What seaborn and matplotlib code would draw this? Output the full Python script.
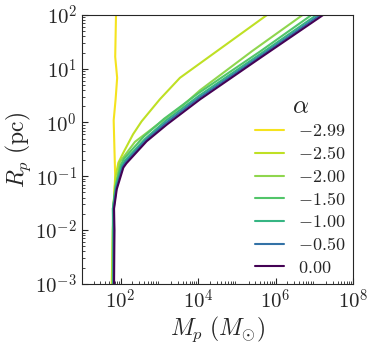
import matplotlib

matplotlib.use("Agg")
import matplotlib.pyplot as plt
import numpy as np
import pandas as pd
import seaborn as sns
from matplotlib.ticker import FixedLocator, FuncFormatter, LogLocator, NullFormatter

# power-law slope of each run, and the (M_p, R_p) track
alphas = ["-2.99", "-2.50", "-2.00", "-1.50", "-1.00", "-0.50", "0.00"]

m_299 = [58.9, 63.1, 67.6, 72.4, 69.2, 66.1, 74.1, 81.3, 72.4, 75.9]
r_299 = [1e-3, 1e-2, 0.0427, 0.1, 0.316, 1.096, 2.69, 6.76, 16.6, 100.0]

m_250 = [60.3, 63.1, 66.1, 74.1, 87.1, 117.5, 208.9, 346.7, 1023, 3388, 11220, 6.03e5]
r_250 = [1e-3, 1e-2, 0.0316, 0.1, 0.178, 0.275, 0.603, 1.047, 2.69, 6.76, 12.6, 100.0]

m_200 = [63.1, 63.1, 64.6, 75.9, 95.5, 234.4, 851.1, 4074, 11220, 2.51e5, 5.01e6]
r_200 = [1e-3, 1e-2, 0.0251, 0.0708, 0.185, 0.437, 0.891, 2.09, 3.98, 21.4, 100.0]

m_150 = [63.1, 63.1, 63.1, 74.1, 102.3, 123.0, 398.1, 1318, 1.0e4, 3.98e5, 8.51e6]
r_150 = [1e-3, 1e-2, 0.0251, 0.0661, 0.166, 0.214, 0.550, 1.17, 3.47, 20.9, 100.0]

m_100 = [64.6, 64.6, 63.1, 75.9, 107.2, 128.8, 426.6, 1413, 10471, 3.98e5, 1.15e7]
r_100 = [1e-3, 1e-2, 0.0251, 0.0631, 0.155, 0.195, 0.495, 1.06, 3.13, 18.6, 100.0]

m_050 = [66.1, 67.6, 66.1, 77.6, 112.2, 134.9, 446.7, 1479, 10715, 3.98e5, 1.41e7]
r_050 = [1e-3, 1e-2, 0.0251, 0.0603, 0.150, 0.183, 0.468, 0.98, 2.88, 17.0, 100.0]

m_000 = [67.6, 69.2, 67.6, 79.4, 117.5, 141.0, 468.0, 1549, 11220, 3.98e5, 1.70e7]
r_000 = [1e-3, 1e-2, 0.025, 0.0575, 0.145, 0.174, 0.447, 0.912, 2.69, 15.8, 100.0]

tracks = {
    "-2.99": (m_299, r_299),
    "-2.50": (m_250, r_250),
    "-2.00": (m_200, r_200),
    "-1.50": (m_150, r_150),
    "-1.00": (m_100, r_100),
    "-0.50": (m_050, r_050),
    "0.00": (m_000, r_000),
}

colors = ["#f5e31e", "#bfe024", "#8fd64e", "#52c569", "#36b583", "#3372a6", "#440154"]

labels = [r"$%s$" % a for a in alphas]
frames = []
for a, label in zip(alphas, labels):
    m, r = tracks[a]
    frames.append(pd.DataFrame({"M": m, "R": r, "alpha": label}))
df = pd.concat(frames, ignore_index=True)

sns.set_style("ticks")
plt.rcParams["mathtext.fontset"] = "cm"
plt.rcParams["font.family"] = ["DejaVu Serif"]

fig = plt.figure(figsize=(3.74, 3.47), dpi=100)
ax = fig.add_axes([0.219, 0.182, 0.725, 0.775])

sns.lineplot(
    data=df,
    x="M",
    y="R",
    hue="alpha",
    hue_order=labels,
    palette=dict(zip(labels, colors)),
    units="alpha",
    estimator=None,
    sort=False,
    lw=1.5,
    ax=ax,
)

ax.set_xscale("log")
ax.set_yscale("log")
ax.set_xlim(1e1, 1e8)
ax.set_ylim(1e-3, 1e2)

log_fmt = FuncFormatter(lambda v, pos: r"$10^{%d}$" % round(np.log10(v)))
ax.xaxis.set_major_locator(FixedLocator([1e2, 1e4, 1e6, 1e8]))
ax.xaxis.set_minor_locator(LogLocator(base=10, subs=np.arange(2, 10), numticks=20))
ax.yaxis.set_major_locator(LogLocator(base=10, numticks=10))
ax.yaxis.set_minor_locator(LogLocator(base=10, subs=np.arange(2, 10), numticks=20))
ax.xaxis.set_major_formatter(log_fmt)
ax.yaxis.set_major_formatter(log_fmt)
ax.xaxis.set_minor_formatter(NullFormatter())
ax.yaxis.set_minor_formatter(NullFormatter())
ax.tick_params(which="both", direction="in", labelsize=15)
ax.tick_params(which="major", length=4)
ax.tick_params(which="minor", length=2)
for s in ax.spines.values():
    s.set_linewidth(0.8)

ax.set_xlabel(r"$M_p\ (M_{\odot})$", fontsize=17, labelpad=1)
ax.set_ylabel(r"$R_p\ (\mathrm{pc})$", fontsize=17, labelpad=2)

leg = ax.legend(
    title=r"$\alpha$",
    loc="lower right",
    frameon=False,
    fontsize=13,
    title_fontsize=18,
    handlelength=1.6,
    labelspacing=0.26,
    borderaxespad=0.0,
)

fig.savefig("out.png", dpi=100)
